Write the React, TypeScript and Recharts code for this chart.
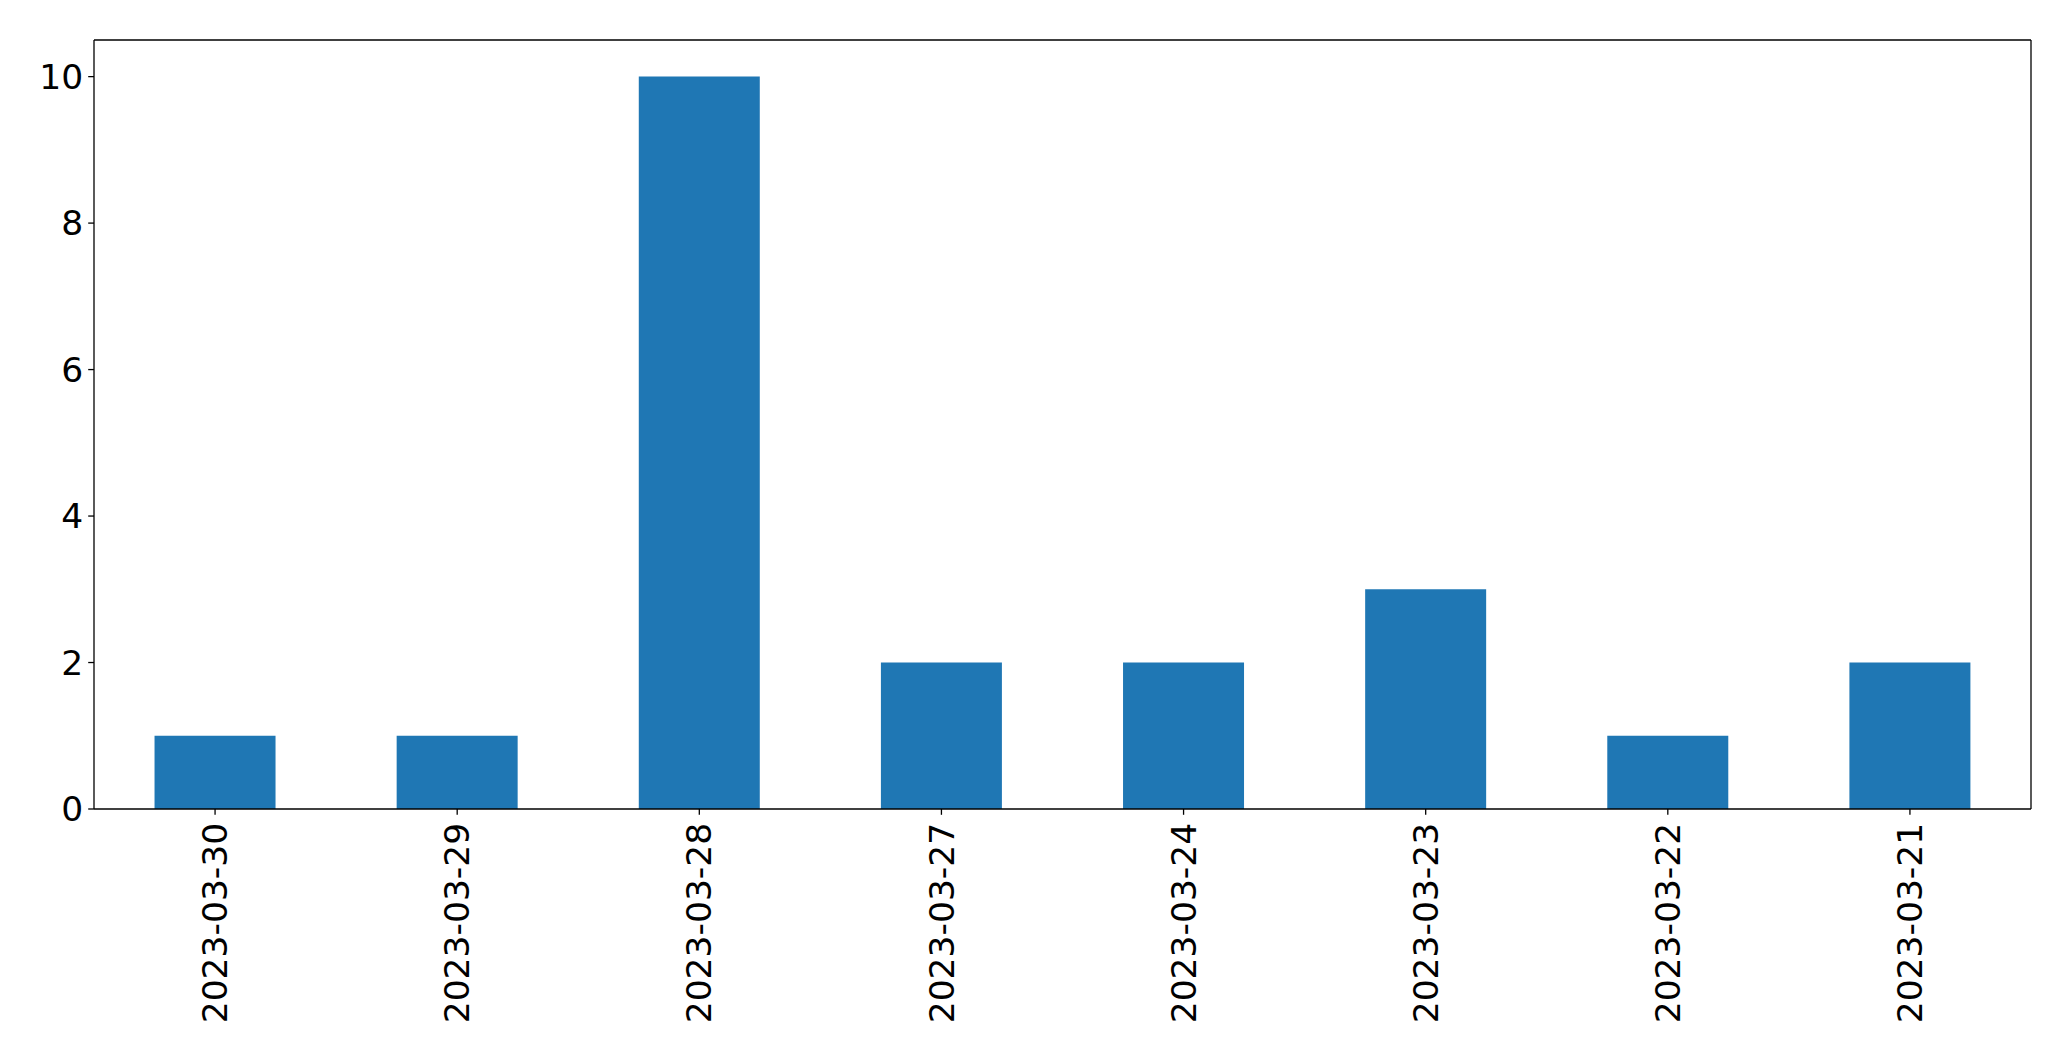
import React from 'react';
import { BarChart, Bar, XAxis, YAxis, ReferenceLine } from 'recharts';

const dates = ['2023-03-30', '2023-03-29', '2023-03-28', '2023-03-27', '2023-03-24', '2023-03-23', '2023-03-22', '2023-03-21'];
const counts = [1, 1, 10, 2, 2, 3, 1, 2];
const yTicks = [0, 2, 4, 6, 8, 10];
const Y_MAX = 10.5;

const data = dates.map((date, i) => ({ date, count: counts[i] }));

const FONT = '"DejaVu Sans", sans-serif';
const SIZE = 34.5;
const frame = { stroke: '#000', strokeWidth: 1.3 };

const DateTick = (props: any) => {
  const { x, y, payload } = props;
  return (
    <g transform={`translate(${x},${y})`}>
      <text transform="rotate(-90)" textAnchor="end" dy="0.35em" fill="#000" fontSize={SIZE} fontFamily={FONT}>
        {payload.value}
      </text>
    </g>
  );
};

const App: React.FC = () => {
  return (
    <div style={{ position: 'absolute', left: 0, top: 0, background: '#fff' }}>
      <BarChart width={2071} height={1061} data={data} margin={{ top: 40, right: 39, left: 0, bottom: 0 }} barCategoryGap="25%">
        <XAxis
          dataKey="date"
          height={252}
          interval={0}
          tick={<DateTick />}
          tickSize={5.8}
          tickMargin={8}
          axisLine={frame}
          tickLine={frame}
        />
        <YAxis
          width={94}
          domain={[0, Y_MAX]}
          ticks={yTicks}
          interval={0}
          tickSize={5.8}
          tickMargin={5}
          tick={{ fill: '#000', fontSize: SIZE, fontFamily: FONT }}
          axisLine={frame}
          tickLine={frame}
        />
        {/* right edge of the frame */}
        <YAxis yAxisId="right" orientation="right" width={1} domain={[0, Y_MAX]} tick={false} tickLine={false} axisLine={frame} />
        <Bar dataKey="count" fill="#1f77b4" isAnimationActive={false} />
        <ReferenceLine y={Y_MAX} {...frame} ifOverflow="visible" />
        <ReferenceLine yAxisId="right" y={Y_MAX} {...frame} ifOverflow="visible" />
      </BarChart>
    </div>
  );
};

export default App;
